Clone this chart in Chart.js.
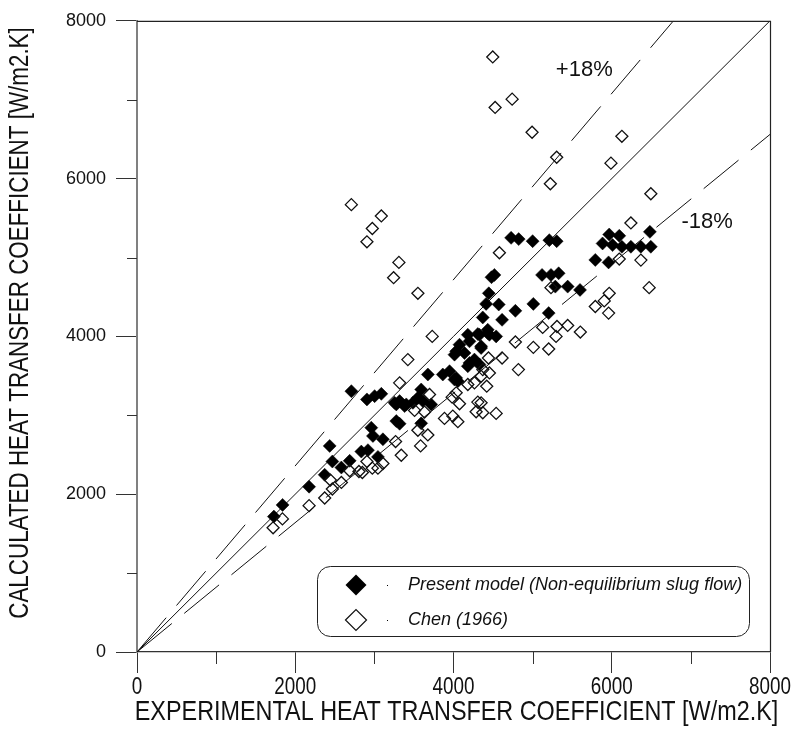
<!DOCTYPE html>
<html>
<head>
<meta charset="utf-8">
<script src="https://cdn.jsdelivr.net/npm/chart.js@4/dist/chart.umd.min.js"></script>
<style>
  html, body { margin: 0; padding: 0; background: #fff; }
</style>
</head>
<body>
<canvas id="heatChart" width="795" height="735"></canvas>
<script>
// ---------------------------------------------------------
// data (W/m2.K)
// ---------------------------------------------------------
const presentX = [1730, 1840, 2175, 2372, 2435, 2469, 2583, 2688, 2835, 2919, 3045, 2982, 3108, 2961, 3319,
  3277, 3592, 2709, 2906, 3003, 3088, 3277, 3319, 3382, 3487, 3403, 3256, 3550, 3613, 3718,
  3592, 3676, 3865, 4013, 4055, 3950, 4034, 4013, 4139, 4034, 4076, 4202, 4265, 4328, 4181,
  4349, 4202, 4181, 4307, 4433, 4539, 4433, 4349, 4370, 4614, 4412, 4572, 4782, 5009, 5203,
  4446, 4517, 4480, 5119, 5232, 5329, 5287, 5443, 5599, 5792, 5960, 4728, 4824, 5000, 5211,
  5304, 5968, 6095, 5884, 6010, 6128, 6242, 6368, 6494, 6482, 4328, 4454];
const presentY = [1716, 1864, 2095, 2246, 2612, 2414, 2338, 2423, 2540, 2558, 2473, 2738, 2696, 2843, 2893,
  2927, 2898, 3306, 3201, 3243, 3272, 3138, 3180, 3117, 3158, 3138, 3158, 3222, 3180, 3138,
  3327, 3517, 3517, 3453, 3432, 3559, 3474, 3769, 3790, 3811, 3895, 3664, 3706, 3643, 3622,
  3874, 3937, 4021, 4030, 4042, 4000, 4084, 3853, 4240, 4210, 4412, 4404, 4324, 4412, 4295,
  4546, 4779, 4750, 4779, 4779, 4800, 4631, 4631, 4589, 4969, 4938, 5249, 5233, 5207, 5220,
  5207, 5291, 5275, 5178, 5157, 5136, 5136, 5136, 5136, 5325, 4021, 4021];

const chenX = [2709, 3088, 2974, 2906, 3310, 3243, 3550, 3731, 4496, 4741, 4526, 4993, 5304, 6128, 5990,
  5224, 6494, 6242, 4580, 6095, 6368, 6473, 5232, 5968, 5905, 5792, 5960, 5127, 5308, 5443,
  5296, 5603, 4782, 5009, 5203, 4614, 4442, 4820, 4370, 4349, 4420, 4349, 4370, 4539, 3423,
  3319, 4454, 4265, 4181, 3697, 4034, 3983, 4076, 4307, 3508, 3634, 4286, 3886, 4055, 3991,
  3550, 3676, 3268, 3584, 3340, 3108, 2906, 2974, 3045, 2848, 2805, 2688, 2583, 2444, 2469,
  2372, 2175, 1838, 1720];
const chenY = [5670, 5527, 5367, 5199, 4938, 4744, 4546, 4000, 7542, 7007, 6902, 6587, 6271, 6536, 6196,
  5935, 5808, 5438, 5060, 4980, 4967, 4618, 4618, 4546, 4450, 4379, 4295, 4114, 4126, 4139,
  4000, 4055, 3929, 3861, 3840, 3726, 3726, 3579, 3579, 3495, 3369, 3158, 3032, 3024, 3706,
  3411, 3537, 3411, 3390, 3264, 3285, 3230, 3146, 3167, 3062, 3041, 3045, 2961, 2919, 2990,
  2810, 2751, 2667, 2612, 2494, 2389, 2414, 2330, 2330, 2275, 2288, 2297, 2149, 2179, 2066,
  1952, 1855, 1687, 1574];

// reference lines: perfect agreement and +/-18 %
const perfectX = [0, 8000];
const perfectY = [0, 8000];
const plus18X = [0, 6780];
const plus18Y = [0, 8000];
const minus18X = [0, 8000];
const minus18Y = [0, 6560];

// band labels, placed in data units
const bandLabels = ['+18%', '-18%'];
const bandLabelX = [5653, 7205];
const bandLabelY = [7382, 5451];

// axis ticks
const axisMin = 0;
const axisMax = 8000;
const majorStep = 2000;
const minorTicks = [1000, 3000, 5000, 7000];

const xTitle = 'EXPERIMENTAL HEAT TRANSFER COEFFICIENT [W/m2.K]';
const yTitle = 'CALCULATED HEAT TRANSFER COEFFICIENT [W/m2.K]';
const legendLabels = ['Present model (Non-equilibrium slug flow)', 'Chen (1966)'];

const SANS = '"Liberation Sans", Arial, sans-serif';

const toPoints = (xs, ys) => xs.map((x, i) => ({ x: x, y: ys[i] }));

function diamond(ctx, x, y, r) {
    ctx.beginPath();
    ctx.moveTo(x - r, y);
    ctx.lineTo(x, y - r);
    ctx.lineTo(x + r, y);
    ctx.lineTo(x, y + r);
    ctx.closePath();
}

// text squeezed sideways, to look like the narrow face of the original plot
function narrowText(ctx, text, x, y, size, squeeze, rotate) {
    ctx.save();
    ctx.translate(x, y);
    if (rotate) ctx.rotate(-Math.PI / 2);
    ctx.scale(squeeze, 1);
    ctx.font = size + 'px ' + SANS;
    ctx.textAlign = 'center';
    ctx.textBaseline = 'middle';
    ctx.fillText(text, 0, 0);
    ctx.restore();
}

// frame, minor ticks, narrow labels, band labels and the boxed legend
const decorPlugin = {
    id: 'decor',
    afterDraw(chart) {
        const ctx = chart.ctx;
        const area = chart.chartArea;
        const xs = chart.scales.x;
        const ys = chart.scales.y;
        ctx.save();

        // top + right border
        ctx.strokeStyle = '#222';
        ctx.lineWidth = 1.2;
        ctx.beginPath();
        ctx.moveTo(area.left, area.top + 0.5);
        ctx.lineTo(area.right + 0.5, area.top + 0.5);
        ctx.lineTo(area.right + 0.5, area.bottom);
        ctx.stroke();

        // minor ticks
        ctx.strokeStyle = '#333';
        ctx.lineWidth = 1;
        minorTicks.forEach(v => {
            const px = Math.round(xs.getPixelForValue(v)) + 0.5;
            ctx.beginPath();
            ctx.moveTo(px, area.bottom);
            ctx.lineTo(px, area.bottom + 12);
            ctx.stroke();
            const py = Math.round(ys.getPixelForValue(v)) + 0.5;
            ctx.beginPath();
            ctx.moveTo(area.left, py);
            ctx.lineTo(area.left - 10, py);
            ctx.stroke();
        });

        // x tick labels and axis titles
        ctx.fillStyle = '#111';
        xs.ticks.forEach(t => narrowText(ctx, String(t.value), xs.getPixelForValue(t.value), 688, 23, 0.82, false));
        narrowText(ctx, xTitle, (area.left + area.right) / 2 + 3, 712, 28, 0.835, false);
        narrowText(ctx, yTitle, 20, 323, 28, 0.80, true);

        // +18% / -18%
        ctx.font = '22px ' + SANS;
        ctx.textAlign = 'center';
        ctx.textBaseline = 'middle';
        bandLabels.forEach((t, i) => {
            ctx.fillText(t, xs.getPixelForValue(bandLabelX[i]), ys.getPixelForValue(bandLabelY[i]));
        });

        // legend box
        const bx = 317.5, by = 566.5, bw = 432, bh = 70, rr = 13;
        ctx.fillStyle = '#fff';
        ctx.strokeStyle = '#222';
        ctx.lineWidth = 1;
        ctx.beginPath();
        ctx.moveTo(bx + rr, by);
        ctx.arcTo(bx + bw, by, bx + bw, by + bh, rr);
        ctx.arcTo(bx + bw, by + bh, bx, by + bh, rr);
        ctx.arcTo(bx, by + bh, bx, by, rr);
        ctx.arcTo(bx, by, bx + bw, by, rr);
        ctx.closePath();
        ctx.fill();
        ctx.stroke();

        const rowY = [585, 620];
        diamond(ctx, 356, rowY[0], 10.5);
        ctx.fillStyle = '#000';
        ctx.fill();
        diamond(ctx, 356, rowY[1], 10.5);
        ctx.strokeStyle = '#111';
        ctx.lineWidth = 1.2;
        ctx.stroke();
        ctx.fillRect(387, rowY[0], 1, 1);
        ctx.fillRect(387, rowY[1], 1, 1);

        ctx.fillStyle = '#111';
        ctx.font = 'italic 18px ' + SANS;
        ctx.textAlign = 'left';
        legendLabels.forEach((t, i) => ctx.fillText(t, 408, rowY[i]));

        ctx.restore();
    }
};

const refLine = (xs, ys, dash) => ({
    type: 'line',
    data: toPoints(xs, ys),
    borderColor: '#111',
    borderWidth: 1,
    borderDash: dash,
    pointRadius: 0,
    fill: false,
    tension: 0,
    order: 5
});

const ctx = document.getElementById('heatChart').getContext('2d');
new Chart(ctx, {
    type: 'scatter',
    data: {
        datasets: [
            {
                label: legendLabels[1],
                data: toPoints(chenX, chenY),
                pointStyle: 'rectRot',
                pointRadius: 6,
                backgroundColor: 'rgba(255,255,255,0)',
                borderColor: '#111',
                borderWidth: 1.3,
                order: 1
            },
            {
                label: legendLabels[0],
                data: toPoints(presentX, presentY),
                pointStyle: 'rectRot',
                pointRadius: 6.5,
                backgroundColor: '#000',
                borderColor: '#000',
                borderWidth: 0.5,
                order: 2
            },
            refLine(perfectX, perfectY, []),
            refLine(plus18X, plus18Y, [45, 16]),
            refLine(minus18X, minus18Y, [45, 16])
        ]
    },
    options: {
        responsive: false,
        animation: false,
        devicePixelRatio: 1,
        layout: { autoPadding: false, padding: { top: 18, right: 25, left: 0, bottom: 0 } },
        plugins: { legend: { display: false }, tooltip: { enabled: false } },
        scales: {
            x: {
                type: 'linear',
                min: axisMin,
                max: axisMax,
                ticks: { stepSize: majorStep, display: false },
                grid: { drawOnChartArea: false, drawTicks: true, tickLength: 21, tickColor: '#333', tickWidth: 1 },
                border: { color: '#333', width: 1.3 },
                afterFit: s => { s.height = 83; }
            },
            y: {
                type: 'linear',
                min: axisMin,
                max: axisMax,
                ticks: {
                    stepSize: majorStep,
                    color: '#111',
                    padding: 10,
                    font: { family: SANS, size: 18 },
                    callback: v => String(v)
                },
                grid: { drawOnChartArea: false, drawTicks: true, tickLength: 21, tickColor: '#333', tickWidth: 1 },
                border: { color: '#808080', width: 2 },
                afterFit: s => { s.width = 137; }
            }
        }
    },
    plugins: [decorPlugin]
});
</script>
</body>
</html>
